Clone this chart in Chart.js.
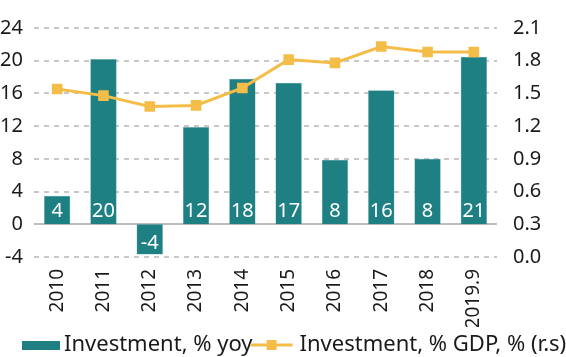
<!DOCTYPE html>
<html>
<head>
<meta charset="utf-8">
<script src="https://cdn.jsdelivr.net/npm/chart.js@4/dist/chart.umd.min.js"></script>
<style>
html,body{margin:0;padding:0;background:#fff;}
#wrap{width:566px;height:357px;position:relative;}
</style>
</head>
<body>
<div id="wrap"><canvas id="c" width="566" height="357"></canvas></div>
<script>
const categories = ["2010","2011","2012","2013","2014","2015","2016","2017","2018","2019.9"];
const investmentYoy = [3.5, 20.2, -3.7, 11.9, 17.8, 17.3, 7.9, 16.4, 8.0, 20.5];
const investmentGdp = [1.54, 1.48, 1.38, 1.39, 1.55, 1.81, 1.78, 1.93, 1.88, 1.88];
const leftTicks = [-4, 0, 4, 8, 12, 16, 20, 24];
const rightTicks = [0.0, 0.3, 0.6, 0.9, 1.2, 1.5, 1.8, 2.1];
const seriesNames = ["Investment, % yoy", "Investment, % GDP, % (r.s)"];

const TEAL = '#1f8084';
const GOLD = '#f4bd48';
const FONT = "'Noto Sans', sans-serif";

const gridLines = {
  id: 'gridLines',
  beforeDatasetsDraw(chart) {
    const ctx = chart.ctx;
    const ys = chart.scales.y;
    const area = chart.chartArea;
    ctx.save();
    ys.ticks.forEach(t => {
      const y = Math.round(ys.getPixelForValue(t.value));
      ctx.beginPath();
      if (t.value === 0) {
        ctx.setLineDash([]);
        ctx.strokeStyle = '#bdbdbd';
      } else {
        ctx.setLineDash([5, 5]);
        ctx.strokeStyle = '#c8c8c8';
      }
      ctx.lineWidth = 2;
      ctx.moveTo(area.left, y);
      ctx.lineTo(area.right, y);
      ctx.stroke();
    });
    ctx.restore();
  }
};

const barLabels = {
  id: 'barLabels',
  afterDatasetsDraw(chart) {
    const ctx = chart.ctx;
    const meta = chart.getDatasetMeta(0);
    ctx.save();
    ctx.fillStyle = '#ffffff';
    ctx.font = '20px ' + FONT;
    ctx.textAlign = 'center';
    ctx.textBaseline = 'middle';
    meta.data.forEach((el, i) => {
      const v = chart.data.datasets[0].data[i];
      const y = v >= 0 ? el.base - 13 : el.base + 19;
      ctx.fillText(String(Math.round(v)), el.x, y);
    });
    ctx.restore();
  }
};

const customLegend = {
  id: 'customLegend',
  afterDraw(chart) {
    const ctx = chart.ctx;
    const ds = chart.data.datasets;
    ctx.save();
    ctx.font = '22px ' + FONT;
    ctx.textBaseline = 'middle';
    ctx.textAlign = 'left';
    const y = 345;
    let x = 22;
    ctx.fillStyle = ds[0].backgroundColor;
    ctx.fillRect(x, y - 4, 38, 9);
    x += 42;
    ctx.fillStyle = '#1a1a1a';
    ctx.fillText(ds[0].label, x, y);
    x += ctx.measureText(ds[0].label).width - 2;
    ctx.strokeStyle = ds[1].borderColor;
    ctx.lineWidth = 3;
    ctx.beginPath();
    ctx.moveTo(x, y);
    ctx.lineTo(x + 42, y);
    ctx.stroke();
    ctx.fillStyle = ds[1].borderColor;
    ctx.fillRect(x + 21 - 5, y - 5, 10, 10);
    x += 49;
    ctx.fillStyle = '#1a1a1a';
    ctx.fillText(ds[1].label, x, y);
    ctx.restore();
  }
};

new Chart(document.getElementById('c'), {
  data: {
    labels: categories,
    datasets: [
      {
        type: 'bar',
        label: seriesNames[0],
        data: investmentYoy,
        yAxisID: 'y',
        backgroundColor: TEAL,
        borderColor: '#6fb0b2',
        borderWidth: 0.5,
        barPercentage: 0.57,
        categoryPercentage: 1.0,
        order: 1
      },
      {
        type: 'line',
        label: seriesNames[1],
        data: investmentGdp,
        yAxisID: 'y1',
        borderColor: GOLD,
        backgroundColor: GOLD,
        borderWidth: 3,
        pointStyle: 'rect',
        pointRadius: 7.5,
        pointHoverRadius: 7.5,
        pointBackgroundColor: GOLD,
        pointBorderWidth: 0,
        tension: 0,
        order: 0
      }
    ]
  },
  options: {
    responsive: false,
    animation: false,
    devicePixelRatio: 1,
    layout: { padding: { top: 14, bottom: 30, left: 0, right: 0 } },
    plugins: {
      legend: { display: false },
      tooltip: { enabled: false }
    },
    scales: {
      x: {
        grid: { display: false, drawTicks: false },
        border: { display: false },
        ticks: {
          font: { family: FONT, size: 19 },
          color: '#1a1a1a',
          maxRotation: 90,
          minRotation: 90,
          autoSkip: false,
          padding: 12
        },
        afterFit(s) { s.height = 70; }
      },
      y: {
        position: 'left',
        min: -4,
        max: 24,
        afterBuildTicks(s) { s.ticks = leftTicks.map(v => ({ value: v })); },
        grid: { display: false, drawTicks: false },
        border: { display: false },
        ticks: {
          font: { family: FONT, size: 20 },
          color: '#1a1a1a',
          padding: 11,
          callback: v => String(v)
        },
        afterFit(s) { s.width = 34; }
      },
      y1: {
        position: 'right',
        min: 0,
        max: 2.1,
        afterBuildTicks(s) { s.ticks = rightTicks.map(v => ({ value: v })); },
        grid: { display: false, drawTicks: false },
        border: { display: false },
        ticks: {
          font: { family: FONT, size: 20 },
          color: '#1a1a1a',
          padding: 16,
          callback: v => Number(v).toFixed(1)
        },
        afterFit(s) { s.width = 69; }
      }
    }
  },
  plugins: [gridLines, barLabels, customLegend]
});
</script>
</body>
</html>
